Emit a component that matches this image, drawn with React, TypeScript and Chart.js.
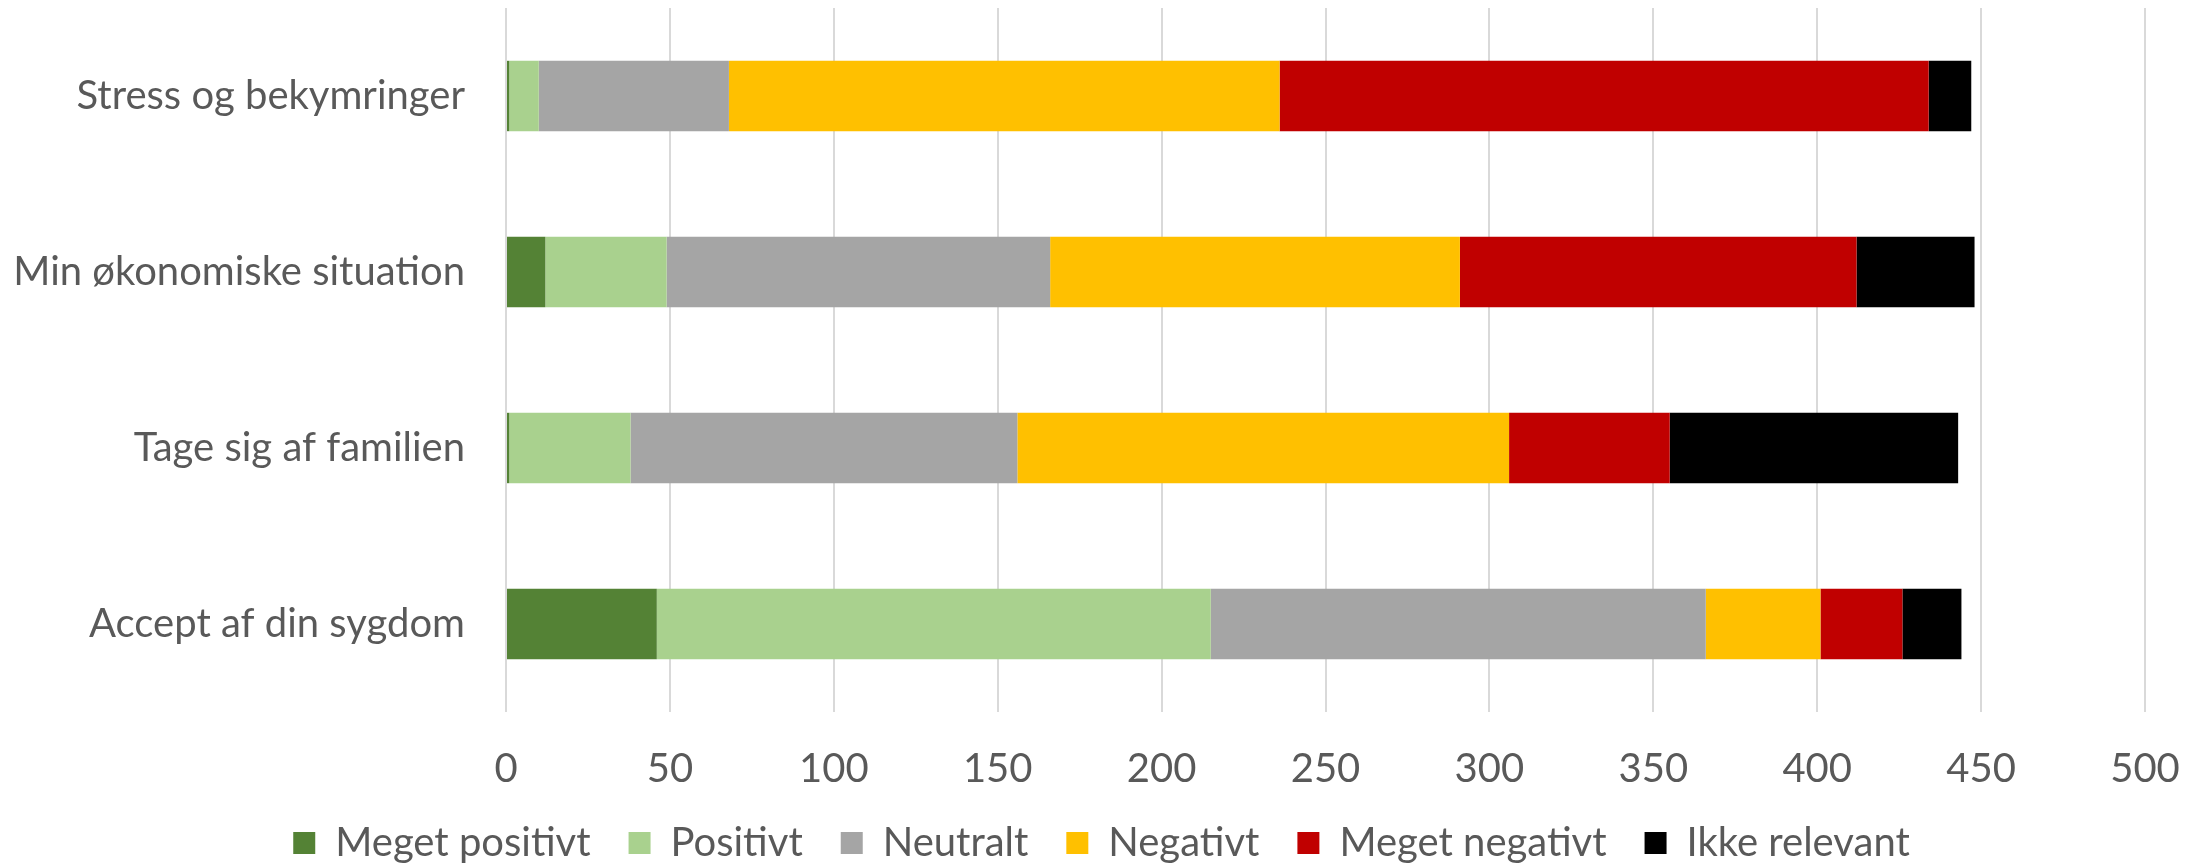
import React, { useEffect, useRef } from "react";
import { Chart, registerables } from "chart.js";

Chart.register(...registerables);

const categories = [
  "Stress og bekymringer",
  "Min økonomiske situation",
  "Tage sig af familien",
  "Accept af din sygdom",
];

const meget_positivt = [1, 12, 1, 46];
const positivt = [9, 37, 37, 169];
const neutralt = [58, 117, 118, 151];
const negativt = [168, 125, 150, 35];
const meget_negativt = [198, 121, 49, 25];
const ikke_relevant = [13, 36, 88, 18];

const seriesNames = [
  "Meget positivt",
  "Positivt",
  "Neutralt",
  "Negativt",
  "Meget negativt",
  "Ikke relevant",
];
const seriesColors = ["#548235", "#A9D18E", "#A5A5A5", "#FFC000", "#C00000", "#000000"];

const xTickMin = 0;
const xTickMax = 500;
const xTickStep = 50;

const FONT = "Lato, 'Open Sans', sans-serif";
const TEXT = "#595959";

export default function App() {
  const ref = useRef<HTMLCanvasElement | null>(null);

  useEffect(() => {
    document.body.style.margin = "0";
    const canvas = ref.current;
    if (!canvas) return;
    const values = [meget_positivt, positivt, neutralt, negativt, meget_negativt, ikke_relevant];
    const chart = new Chart(canvas, {
      type: "bar",
      data: {
        labels: categories,
        datasets: values.map((v, i) => ({
          label: seriesNames[i],
          data: v,
          backgroundColor: seriesColors[i],
          borderWidth: 0,
          categoryPercentage: 0.4,
          barPercentage: 1.0,
        })),
      },
      options: {
        indexAxis: "y",
        responsive: false,
        animation: false,
        layout: { padding: { left: 0, right: 0, top: 8, bottom: -8 } },
        plugins: {
          tooltip: { enabled: false },
          legend: {
            position: "bottom",
            labels: {
              boxWidth: 22,
              boxHeight: 22,
              padding: 38,
              color: TEXT,
              font: { family: FONT, size: 40 },
            },
          },
        },
        scales: {
          x: {
            stacked: true,
            min: xTickMin,
            max: xTickMax,
            ticks: {
              stepSize: xTickStep,
              color: TEXT,
              padding: 33,
              font: { family: FONT, size: 40 },
            },
            grid: { color: "#D9D9D9", lineWidth: 2, drawTicks: false },
            border: { display: false },
            afterFit: (scale: any) => {
              scale.height = 73;
              scale.paddingLeft = 0;
              scale.paddingRight = 58;
            },
          },
          y: {
            stacked: true,
            ticks: {
              color: TEXT,
              padding: 41,
              font: { family: FONT, size: 40 },
            },
            grid: { display: false, drawTicks: false },
            border: { display: false },
            afterFit: (scale: any) => {
              scale.width = 506;
              scale.paddingTop = 0;
              scale.paddingBottom = 0;
            },
          },
        },
      },
    });
    return () => chart.destroy();
  }, []);

  return <canvas ref={ref} width={2203} height={865} style={{ display: "block" }} />;
}
